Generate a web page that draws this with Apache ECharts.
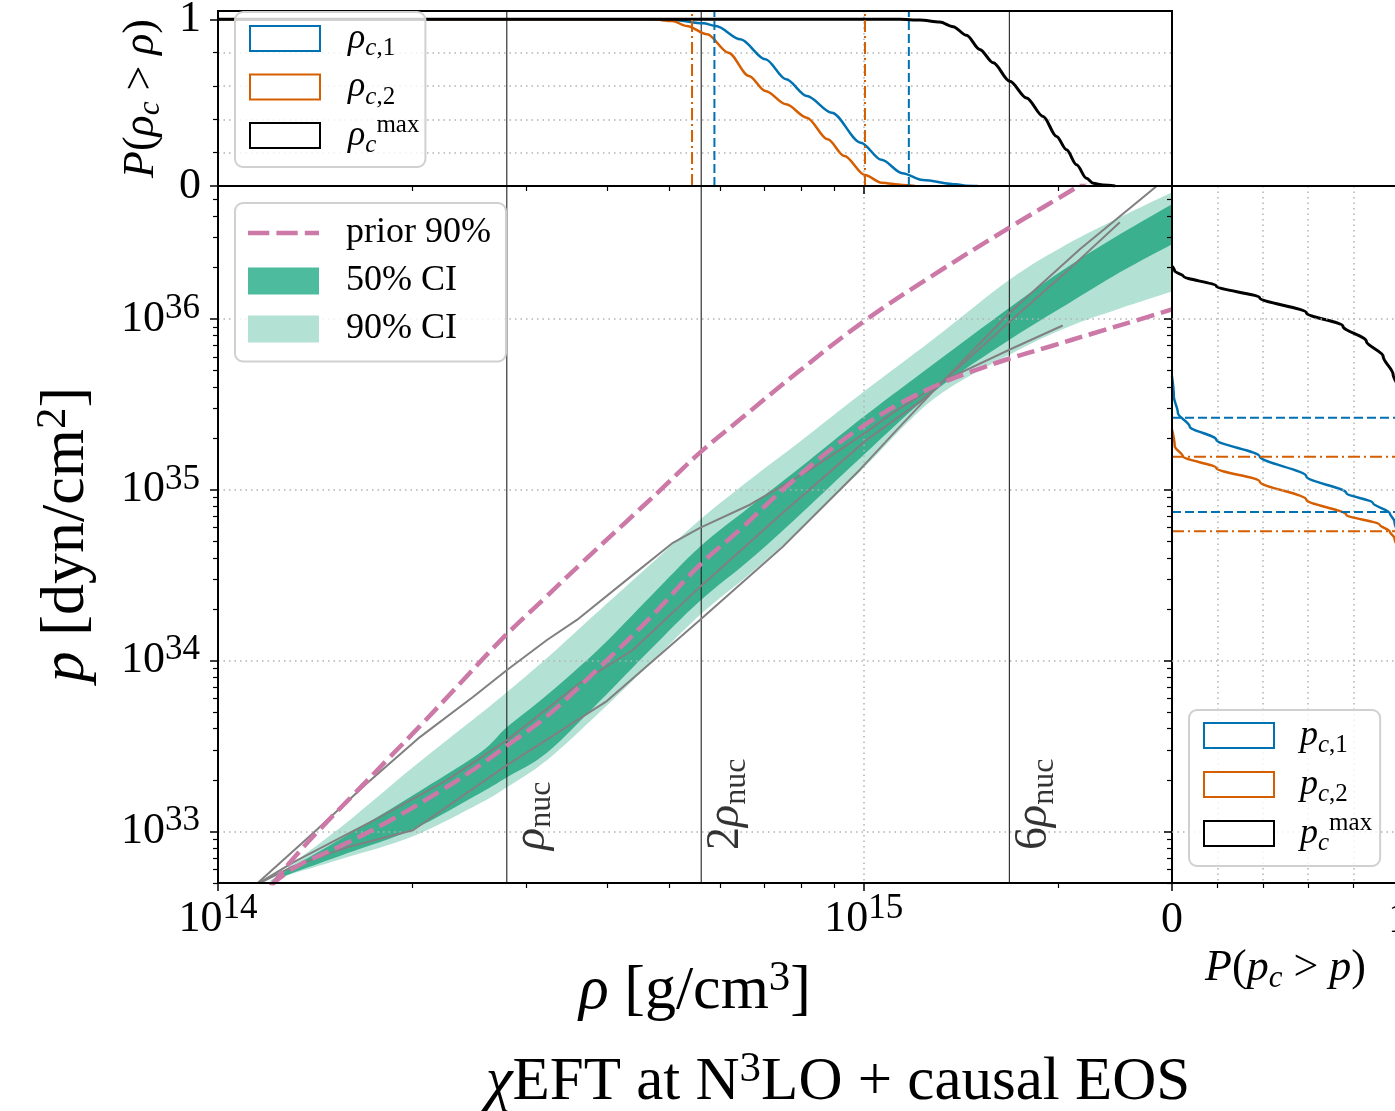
<!DOCTYPE html>
<html><head><meta charset="utf-8">
<script src="https://cdn.jsdelivr.net/npm/echarts@6/dist/echarts.min.js"></script>
<style>html,body{margin:0;padding:0;background:#fff;overflow:hidden}#c{width:1395px;height:1111px}</style>
</head><body><div id="c"></div>
<script>
// ---------------- data ----------------
const rhoNuc = 2.8e14;
const nucMultipliers = [1, 2, 6];
const nucLabels = ['', '2', '6'];
const nucLabelP = 7.8e32;

const xMin = 1e14, xMax = 3e15;      // rho range
const pMin = 5e32, pMax = 6e36;      // p range
const probMaxTop = 1.05;

const xMajor = [1e14, 1e15];
const xMinor = [2e14, 3e14, 4e14, 5e14, 6e14, 7e14, 8e14, 9e14, 2e15, 3e15];
const yMajor = [1e33, 1e34, 1e35, 1e36];
const yMinor = [5e32, 6e32, 7e32, 8e32, 9e32,
  2e33, 3e33, 4e33, 5e33, 6e33, 7e33, 8e33, 9e33,
  2e34, 3e34, 4e34, 5e34, 6e34, 7e34, 8e34, 9e34,
  2e35, 3e35, 4e35, 5e35, 6e35, 7e35, 8e35, 9e35,
  2e36, 3e36, 4e36, 5e36, 6e36];
const probMajor = [0, 1];
const probMinor = [0.2, 0.4, 0.6, 0.8];

// top panel: P(rho_c > rho)
const topRhoC1 = [1e14, 4.6e14, 5.09e14, 5.64e14, 5.90e14, 6.44e14, 7.04e14, 7.58e14, 8.16e14, 8.92e14, 9.89e14, 1.065e15, 1.147e15, 1.234e15, 1.39e15, 1.44e15, 1.5e15];
const topPC1   = [1, 1, 0.996, 0.976, 0.96, 0.88, 0.76, 0.64, 0.54, 0.44, 0.26, 0.157, 0.077, 0.036, 0.01, 0.002, 0];
const topRhoC2 = [1e14, 4.72e14, 5.05e14, 5.32e14, 5.72e14, 6.17e14, 6.64e14, 7.04e14, 7.58e14, 8.16e14, 8.79e14, 9.33e14, 1.004e15, 1.065e15, 1.147e15, 1.2e15];
const topPC2   = [1, 1, 0.99, 0.96, 0.91, 0.80, 0.66, 0.57, 0.49, 0.41, 0.28, 0.18, 0.066, 0.02, 0.006, 0];
const topRhoMax = [1e14, 1.137e15, 1.221e15, 1.311e15, 1.375e15, 1.442e15, 1.512e15, 1.586e15, 1.683e15, 1.786e15, 1.895e15, 1.988e15, 2.06e15, 2.135e15, 2.212e15, 2.265e15, 2.347e15, 2.45e15];
const topPMax   = [1, 1, 0.996, 0.984, 0.956, 0.904, 0.819, 0.739, 0.628, 0.528, 0.417, 0.297, 0.217, 0.127, 0.046, 0.016, 0.006, 0];
const rhoC1Bounds = [5.87e14, 1.174e15];
const rhoC2Bounds = [5.42e14, 1.004e15];

// main panel: credible bands
const bandRho = [1.204e14, 1.325e14, 1.584e14, 2.004e14, 2.545e14, 2.802e14, 3.231e14, 3.902e14, 4.665e14, 5.574e14, 6.661e14, 7.96e14, 1.0e15, 1.279e15, 1.683e15, 2.062e15, 2.491e15, 3.0e15];
const ci90Hi = [5.11e32, 6.79e32, 1.134e33, 2.382e33, 4.871e33, 6.555e33, 1.037e34, 1.983e34, 3.639e34, 6.678e34, 1.146e35, 1.914e35, 3.758e35, 7.584e35, 1.704e36, 2.734e36, 3.936e36, 5.513e36];
const ci90Lo = [5.11e32, 5.77e32, 7.07e32, 9.38e32, 1.465e33, 1.818e33, 2.618e33, 5.003e33, 9.566e33, 1.853e34, 3.223e34, 5.837e34, 1.347e35, 3.374e35, 6.195e35, 8.916e35, 1.152e36, 1.45e36];
const ci50Hi = [5.11e32, 6.43e32, 9.51e32, 1.632e33, 2.896e33, 4.087e33, 6.295e33, 1.187e34, 2.363e34, 4.64e34, 7.96e34, 1.347e35, 2.683e35, 5.411e35, 1.168e36, 2.004e36, 3.127e36, 4.69e36];
const ci50Lo = [5.11e32, 5.85e32, 7.46e32, 1.031e33, 1.677e33, 2.081e33, 2.896e33, 5.805e33, 1.155e34, 2.238e34, 3.894e34, 7.145e34, 1.606e35, 3.709e35, 7.584e35, 1.216e36, 1.874e36, 2.734e36];

// prior 90% bounds
const priorHiRho = [1.212e14, 1.293e14, 1.438e14, 1.618e14, 1.826e14, 2.054e14, 2.311e14, 2.762e14, 3.185e14, 3.673e14, 4.236e14, 4.885e14, 5.574e14, 6.427e14, 7.96e14, 1.0e15, 1.279e15, 1.683e15, 2.136e15, 2.403e15];
const priorHiP   = [4.84e32, 6.61e32, 1.031e33, 1.632e33, 2.618e33, 4.142e33, 6.644e33, 1.359e34, 2.269e34, 3.79e34, 6.244e34, 1.029e35, 1.65e35, 2.576e35, 4.989e35, 9.67e35, 1.799e36, 3.439e36, 5.9e36, 7.73e36];
const priorLoRho = [1.204e14, 1.325e14, 1.545e14, 1.826e14, 2.206e14, 2.545e14, 2.802e14, 3.231e14, 3.902e14, 4.665e14, 5.574e14, 6.427e14, 7.49e14, 8.954e14, 1.011e15, 1.137e15, 1.326e15, 1.529e15, 1.683e15, 1.941e15, 2.262e15, 2.609e15, 3.0e15];
const priorLoP   = [4.84e32, 6.26e32, 8.20e32, 1.134e33, 1.722e33, 2.447e33, 3.184e33, 4.739e33, 9.186e33, 1.779e34, 3.639e34, 5.837e34, 1.001e35, 1.765e35, 2.441e35, 3.197e35, 4.244e35, 5.196e35, 5.868e35, 6.899e35, 8.222e35, 9.67e35, 1.137e36];

// individual EOS samples (gray)
const eosARho = [1.141e14, 1.403e14, 1.701e14, 2.054e14, 2.482e14, 2.802e14, 3.231e14, 3.595e14, 4.389e14, 5.062e14, 5.574e14, 6.661e14, 8.16e14, 8.954e14, 1.011e15, 1.109e15, 1.34e15, 1.683e15, 2.032e15];
const eosAP   = [4.84e32, 9.77e32, 1.919e33, 3.571e33, 6.127e33, 8.82e33, 1.322e34, 1.732e34, 3.18e34, 4.897e34, 5.996e34, 8.18e34, 1.277e35, 1.606e35, 2.191e35, 2.831e35, 4.42e35, 6.625e35, 9.16e35];
const eosBRho = [1.141e14, 1.307e14, 1.781e14, 2.262e14, 2.802e14, 3.634e14, 4.389e14, 5.574e14, 7.49e14, 1.011e15, 1.234e15, 1.683e15, 2.062e15, 2.491e15];
const eosBP   = [4.84e32, 6.61e32, 1.213e33, 1.998e33, 3.43e33, 7.40e33, 1.155e34, 2.704e34, 7.342e34, 1.967e35, 3.374e35, 9.67e35, 1.899e36, 3.679e36];
const eosCRho = [1.141e14, 1.307e14, 1.584e14, 2.004e14, 2.802e14, 4.0e14, 5.574e14, 7.49e14, 9.86e14, 1.137e15, 1.279e15, 1.683e15, 2.16e15, 2.978e15];
const eosCP   = [4.84e32, 6.26e32, 8.09e32, 1.018e33, 2.447e33, 5.805e33, 1.732e34, 4.64e34, 1.312e35, 2.344e35, 3.758e35, 1.092e36, 2.555e36, 6.94e36];

// right panel: P(p_c > p)
const rightProbC1 = [0, 0.008, 0.026, 0.078, 0.195, 0.386, 0.592, 0.768, 0.885, 0.959, 0.98, 1];
const rightPC1    = [4.62e35, 3.53e35, 2.82e35, 2.35e35, 1.967e35, 1.57e35, 1.198e35, 9.58e34, 8.37e34, 7.31e34, 6.53e34, 5.5e34];
const rightProbC2 = [0, 0.012, 0.048, 0.195, 0.386, 0.592, 0.768, 0.915, 0.959, 0.98, 1];
const rightPC2    = [2.25e35, 1.797e35, 1.57e35, 1.342e35, 1.12e35, 8.75e34, 7.15e34, 6.24e34, 5.70e34, 5.22e34, 4.5e34];
const rightProbMax = [0, 0.012, 0.05, 0.195, 0.386, 0.592, 0.753, 0.856, 0.93, 0.974, 0.995, 1];
const rightPMax    = [2.04e36, 1.907e36, 1.782e36, 1.557e36, 1.331e36, 1.087e36, 9.07e35, 7.41e35, 6.05e35, 4.73e35, 4.0e35, 3.5e35];
const pC1Bounds = [2.64e35, 7.41e34];
const pC2Bounds = [1.563e35, 5.73e34];

// ---------------- styles ----------------
const F = 'Liberation Serif';
const BLUE = '#0072b2', ORANGE = '#d55e00', PINK = '#cc79a7', GRAY = '#808080';
const DARK = '#3ab08f', LIGHT = '#b3e2d5';

// rich-text tokens; sup/sub are shifted by (lineHeight - subFontSize)/2
function mkRich(size, lh, supRatio) {
  const s2 = Math.round(size * (supRatio || 0.7)), s3 = Math.round(size * 0.7);
  const b = {fontFamily: F, color: '#000', fontWeight: 'normal'};
  return {
    r: Object.assign({fontSize: size, lineHeight: lh}, b),
    it: Object.assign({fontSize: size, lineHeight: lh, fontStyle: 'italic'}, b),
    sup: Object.assign({fontSize: s2, verticalAlign: 'top'}, b),
    supi: Object.assign({fontSize: s2, verticalAlign: 'top', fontStyle: 'italic'}, b),
    sub: Object.assign({fontSize: s3, verticalAlign: 'bottom'}, b),
    subi: Object.assign({fontSize: s3, verticalAlign: 'bottom', fontStyle: 'italic'}, b)
  };
}
const RT = mkRich(44, 56, 0.8), R44 = mkRich(44, 50), R36 = mkRich(36, 45),
      R62 = mkRich(62, 70), R61 = mkRich(61, 70), R46 = mkRich(46, 52);

const zip = (xs, ys) => xs.map((x, i) => [x, ys[i]]);
const dotted = {show: true, lineStyle: {type: [1.5, 4], color: '#b3b3b3', width: 1.5}};
const tickMaj = (vals) => ({show: true, length: 8, customValues: vals, lineStyle: {color: '#000', width: 1.5}});
const tickMin = (vals) => ({show: true, length: 5, customValues: vals, lineStyle: {color: '#000', width: 1.2}});
const powLabel = (v) => { const e = Math.round(Math.log10(v)); return '{r|10}{sup|' + e + '}'; };

const legendText = {
  rho_c1: '{it|ρ}{subi|c}{sub|,1}', rho_c2: '{it|ρ}{subi|c}{sub|,2}', rho_cmax: '{it|ρ}{subi|c}{sup|max}',
  p_c1: '{it|p}{subi|c}{sub|,1}', p_c2: '{it|p}{subi|c}{sub|,2}', p_cmax: '{it|p}{subi|c}{sup|max}',
  'prior 90%': '{r|prior 90%}', '50% CI': '{r|50% CI}', '90% CI': '{r|90% CI}'
};
const hollow = (c) => ({color: '#ffffff', borderColor: c, borderWidth: 2});

function line(name, data, xi, color, width, extra) {
  return Object.assign({type: 'line', name: name, data: data, xAxisIndex: xi, yAxisIndex: xi,
    symbol: 'none', showSymbol: false, lineStyle: {color: color, width: width}, itemStyle: {color: color},
    z: 3, animation: false, silent: true}, extra || {});
}
// Catmull-Rom smoothing of screen points (rendering only)
function smoothPts(pts, seg) {
  const out = [];
  for (let i = 0; i < pts.length - 1; i++) {
    const p0 = pts[Math.max(i - 1, 0)], p1 = pts[i], p2 = pts[i + 1], p3 = pts[Math.min(i + 2, pts.length - 1)];
    for (let k = 0; k < seg; k++) {
      const t = k / seg, t2 = t * t, t3 = t2 * t;
      const f = (a, b, c, d) => 0.5 * (2 * b + (-a + c) * t + (2 * a - 5 * b + 4 * c - d) * t2 + (-a + 3 * b - 3 * c + d) * t3);
      out.push([f(p0[0], p1[0], p2[0], p3[0]), f(p0[1], p1[1], p2[1], p3[1])]);
    }
  }
  out.push(pts[pts.length - 1]);
  return out;
}
function band(name, lo, hi, color) {
  return {type: 'custom', name: name, xAxisIndex: 2, yAxisIndex: 2, z: 1, clip: true, silent: true,
    itemStyle: {color: color}, data: [[1e15, 1e35]],
    renderItem: function (params, api) {
      const top = bandRho.map((r, i) => api.coord([r, hi[i]]));
      const bot = bandRho.map((r, i) => api.coord([r, lo[i]])).reverse();
      const pts = smoothPts(top, 8).concat(smoothPts(bot, 8));
      return {type: 'polygon', shape: {points: pts}, style: {fill: color}};
    }};
}

const series = [];
// top panel
series.push(line('rho_c1', zip(topRhoC1, topPC1), 0, BLUE, 2.5, {smooth: 0.3, smoothMonotone: 'x'}));
series.push(line('rho_c2', zip(topRhoC2, topPC2), 0, ORANGE, 2.5, {smooth: 0.3, smoothMonotone: 'x'}));
series.push(line('rho_cmax', zip(topRhoMax, topPMax), 0, '#000', 3, {smooth: 0.3, smoothMonotone: 'x'}));
rhoC1Bounds.forEach(v => series.push(line('', [[v, 0], [v, probMaxTop]], 0, BLUE, 2, {lineStyle: {color: BLUE, width: 2, type: [9, 4]}, z: 4})));
rhoC2Bounds.forEach(v => series.push(line('', [[v, 0], [v, probMaxTop]], 0, ORANGE, 2, {lineStyle: {color: ORANGE, width: 2, type: [12, 4, 2, 4]}, z: 4})));
nucMultipliers.forEach(m => series.push(line('', [[m * rhoNuc, 0], [m * rhoNuc, probMaxTop]], 0, '#222', 1.1, {z: 2})));

// main panel
series.push(band('90% CI', ci90Lo, ci90Hi, LIGHT));
series.push(band('50% CI', ci50Lo, ci50Hi, DARK));
nucMultipliers.forEach(m => series.push(line('', [[m * rhoNuc, pMin], [m * rhoNuc, pMax]], 2, '#222', 1.1, {z: 3})));
[[eosARho, eosAP], [eosBRho, eosBP], [eosCRho, eosCP]].forEach(d => series.push(line('', zip(d[0], d[1]), 2, GRAY, 2, {z: 3})));
series.push(line('prior 90%', zip(priorHiRho, priorHiP), 2, PINK, 4, {lineStyle: {color: PINK, width: 4.5, type: [18, 7]}, smooth: 0.4, z: 4}));
series.push(line('prior 90%', zip(priorLoRho, priorLoP), 2, PINK, 4, {lineStyle: {color: PINK, width: 4.5, type: [18, 7]}, smooth: 0.4, z: 4}));
series.push({type: 'scatter', xAxisIndex: 2, yAxisIndex: 2, symbolSize: 0.1, itemStyle: {color: 'rgba(0,0,0,0)'},
  silent: true, z: 6, clip: false, animation: false,
  data: nucMultipliers.map((m, i) => ({value: [m * rhoNuc, nucLabelP],
    label: {show: true, rotate: 90, position: [25, 0], align: 'left', verticalAlign: 'middle',
      formatter: (nucLabels[i] ? '{r|' + nucLabels[i] + '}' : '') + '{it|ρ}{sub|nuc}', rich: R46}}))});

// right panel
series.push(line('p_c1', zip(rightProbC1, rightPC1), 4, BLUE, 2.5, {smooth: 0.3, smoothMonotone: 'y'}));
series.push(line('p_c2', zip(rightProbC2, rightPC2), 4, ORANGE, 2.5, {smooth: 0.3, smoothMonotone: 'y'}));
series.push(line('p_cmax', zip(rightProbMax, rightPMax), 4, '#000', 3, {smooth: 0.3, smoothMonotone: 'y'}));
pC1Bounds.forEach(v => series.push(line('', [[0, v], [1, v]], 4, BLUE, 2, {lineStyle: {color: BLUE, width: 2, type: [9, 4]}, z: 4})));
pC2Bounds.forEach(v => series.push(line('', [[0, v], [1, v]], 4, ORANGE, 2, {lineStyle: {color: ORANGE, width: 2, type: [12, 4, 2, 4]}, z: 4})));

const gridBase = {show: true, borderColor: '#000', borderWidth: 2, backgroundColor: 'transparent', z: 10,
  containLabel: false, outerBoundsMode: 'none'};
const noLine = {show: false};
const legendBase = {orient: 'vertical', backgroundColor: 'rgba(255,255,255,0.8)', borderColor: '#d0d0d0', borderWidth: 2,
  borderRadius: 8, selectedMode: false, z: 20, formatter: n => legendText[n]};
const legendTextStyle = (padL) => ({rich: R36, fontFamily: F, fontSize: 36, lineHeight: 45, color: '#000', padding: [0, 0, 0, padL]});

const option = {
  animation: false,
  backgroundColor: '#ffffff',
  title: {text: '{it|χ}{r|EFT at N}{sup|3}{r|LO + causal EOS}', left: 833, top: 1043, textAlign: 'center',
    textStyle: {rich: R61, fontFamily: F, fontSize: 61, fontWeight: 'normal', color: '#000'}},
  grid: [
    Object.assign({left: 218, top: 11, width: 954, height: 175}, gridBase),
    Object.assign({left: 218, top: 186, width: 954, height: 697}, gridBase),
    Object.assign({left: 1172, top: 186, width: 227, height: 697}, gridBase)
  ],
  xAxis: [
    {gridIndex: 0, type: 'log', min: xMin, max: xMax, position: 'bottom', z: 2, axisLine: noLine,
      axisTick: tickMaj(xMajor), axisLabel: {show: false}, splitLine: dotted},
    {gridIndex: 0, type: 'log', min: xMin, max: xMax, position: 'bottom', z: 2, axisLine: noLine,
      axisTick: tickMin(xMinor), axisLabel: {show: false}, splitLine: {show: false}},
    {gridIndex: 1, type: 'log', min: xMin, max: xMax, position: 'bottom', z: 2, axisLine: noLine,
      axisTick: tickMaj(xMajor), splitLine: dotted,
      axisLabel: {show: true, customValues: xMajor, formatter: powLabel, rich: RT, margin: 8},
      name: '{it|ρ}{r| [g/cm}{sup|3}{r|]}', nameLocation: 'middle', nameGap: 74,
      nameTextStyle: {rich: R62, fontFamily: F, fontSize: 62, color: '#000'}},
    {gridIndex: 1, type: 'log', min: xMin, max: xMax, position: 'bottom', z: 2, axisLine: noLine,
      axisTick: tickMin(xMinor), axisLabel: {show: false}, splitLine: {show: false}},
    {gridIndex: 2, type: 'value', min: 0, max: 1, interval: 0.2, position: 'bottom', z: 2, axisLine: noLine,
      axisTick: tickMaj(probMajor), splitLine: {show: false},
      axisLabel: {show: true, customValues: probMajor, formatter: v => '{r|' + v + '}', rich: R44, margin: 12},
      name: '{it|P}{r|(}{it|p}{subi|c}{r| > }{it|p}{r|)}', nameLocation: 'middle', nameGap: 59,
      nameTextStyle: {rich: R44, fontFamily: F, fontSize: 44, color: '#000'}},
    {gridIndex: 2, type: 'value', min: 0, max: 1, interval: 0.2, position: 'bottom', z: 2, axisLine: noLine,
      axisTick: tickMin(probMinor), axisLabel: {show: false}, splitLine: dotted}
  ],
  yAxis: [
    {gridIndex: 0, type: 'value', min: 0, max: probMaxTop, interval: 0.2, position: 'left', z: 2, axisLine: noLine,
      axisTick: tickMaj(probMajor), splitLine: {show: false},
      axisLabel: {show: true, customValues: probMajor, formatter: v => '{r|' + v + '}', rich: R44, margin: 17},
      name: '{it|P}{r|(}{it|ρ}{subi|c}{r| > }{it|ρ}{r|)}', nameLocation: 'middle', nameGap: 52, nameRotate: 90,
      nameTextStyle: {rich: R44, fontFamily: F, fontSize: 44, color: '#000'}},
    {gridIndex: 0, type: 'value', min: 0, max: probMaxTop, interval: 0.2, position: 'left', z: 2, axisLine: noLine,
      axisTick: tickMin(probMinor), axisLabel: {show: false}, splitLine: dotted},
    {gridIndex: 1, type: 'log', min: pMin, max: pMax, position: 'left', z: 2, axisLine: noLine,
      axisTick: tickMaj(yMajor), splitLine: dotted,
      axisLabel: {show: true, customValues: yMajor, formatter: powLabel, rich: RT, margin: 18},
      name: '{it|p}{r| [dyn/cm}{sup|2}{r|]}', nameLocation: 'middle', nameGap: 116, nameRotate: 90,
      nameTextStyle: {rich: R62, fontFamily: F, fontSize: 62, color: '#000'}},
    {gridIndex: 1, type: 'log', min: pMin, max: pMax, position: 'left', z: 2, axisLine: noLine,
      axisTick: tickMin(yMinor), axisLabel: {show: false}, splitLine: {show: false}},
    {gridIndex: 2, type: 'log', min: pMin, max: pMax, position: 'left', z: 11, axisLine: noLine,
      axisTick: tickMaj(yMajor), splitLine: dotted, axisLabel: {show: false}},
    {gridIndex: 2, type: 'log', min: pMin, max: pMax, position: 'left', z: 11, axisLine: noLine,
      axisTick: tickMin(yMinor), axisLabel: {show: false}, splitLine: {show: false}}
  ],
  legend: [
    Object.assign({data: [{name: 'rho_c1', icon: 'rect', itemStyle: hollow(BLUE)}, {name: 'rho_c2', icon: 'rect', itemStyle: hollow(ORANGE)}, {name: 'rho_cmax', icon: 'rect', itemStyle: hollow('#000')}],
      left: 235, top: 12, itemWidth: 70, itemHeight: 25, itemGap: 3.5, padding: [4, 6, 9, 14],
      textStyle: legendTextStyle(23)}, legendBase),
    Object.assign({data: [{name: 'prior 90%', icon: 'path://M0 0H21V4.5H0Z M28 0H49V4.5H28Z M56 0H70V4.5H56Z', itemStyle: {color: PINK, borderWidth: 0}},
            {name: '50% CI', icon: 'rect', itemStyle: {color: '#4dbb9d', borderWidth: 0}},
            {name: '90% CI', icon: 'rect', itemStyle: {color: LIGHT, borderWidth: 0}}],
      left: 235, top: 203, itemWidth: 71, itemHeight: 27, itemGap: 3, padding: [7.5, 15, 10, 13],
      textStyle: legendTextStyle(22)}, legendBase),
    Object.assign({data: [{name: 'p_c1', icon: 'rect', itemStyle: hollow(BLUE)}, {name: 'p_c2', icon: 'rect', itemStyle: hollow(ORANGE)}, {name: 'p_cmax', icon: 'rect', itemStyle: hollow('#000')}],
      left: 1189, top: 710, itemWidth: 70, itemHeight: 25, itemGap: 4, padding: [3, 8, 10, 14],
      textStyle: legendTextStyle(21)}, legendBase)
  ],
  series: series
};

const chart = echarts.init(document.getElementById('c'), null, {renderer: 'canvas'});
chart.setOption(option);
</script>
</body></html>
